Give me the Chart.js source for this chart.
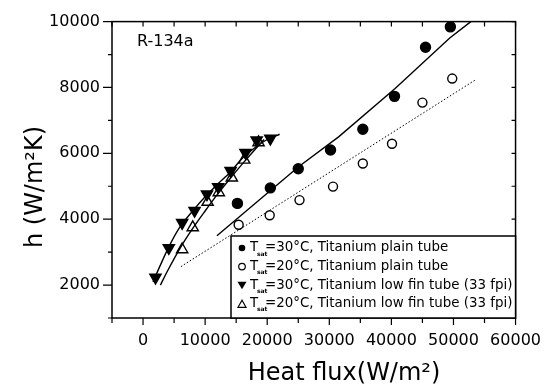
<!DOCTYPE html>
<html>
<head>
<meta charset="utf-8">
<script src="https://cdn.jsdelivr.net/npm/chart.js@4"></script>
<style>
html, body { margin: 0; padding: 0; background: #fff; }
</style>
</head>
<body>
<canvas id="c" width="554" height="385"></canvas>
<script>
// measured points (heat flux W/m2, h W/m2K)
const plain30X = [15200, 20500, 25000, 30200, 35400, 40500, 45500, 49500];
const plain30Y = [4480, 4950, 5530, 6100, 6730, 7730, 9220, 9840];
const plain20X = [15400, 20400, 25200, 30600, 35400, 40100, 45000, 49800];
const plain20Y = [3830, 4120, 4580, 4990, 5690, 6290, 7540, 8270];
const fin30X = [2000, 4150, 6300, 8300, 10300, 12100, 14100, 16500, 18300, 20500];
const fin30Y = [2230, 3130, 3890, 4260, 4760, 4980, 5470, 6020, 6400, 6450];
const fin20X = [6300, 8000, 10400, 12200, 14300, 16300, 18600];
const fin20Y = [3080, 3750, 4520, 4810, 5260, 5800, 6330];

// correlation curves
const fitPlain30X = [11900, 25100, 31500, 40600, 49400, 52800];
const fitPlain30Y = [3500, 5600, 6500, 7970, 9500, 10000];
const fitPlain20X = [6100, 53700];
const fitPlain20Y = [2560, 8250];
const fitFin30X = [1600, 4000, 6000, 8000, 10000, 12000, 14000, 16000, 18000, 20000, 22000];
const fitFin30Y = [2100, 3100, 3780, 4250, 4680, 5060, 5420, 5850, 6170, 6420, 6580];
const fitFin20X = [2800, 4000, 6000, 8000, 10000, 12000, 14000, 16000, 18000, 19500];
const fitFin20Y = [2000, 2450, 3130, 3720, 4250, 4760, 5230, 5680, 6110, 6420];

// legend
const legendTemps = ['30', '20', '30', '20'];
const legendTexts = ['Titanium plain tube', 'Titanium plain tube',
  'Titanium low fin tube (33 fpi)', 'Titanium low fin tube (33 fpi)'];
const legendMarks = ['dot', 'ring', 'down', 'up'];

const FONT = "'DejaVu Sans', sans-serif";

function pts(xs, ys) {
  return xs.map((x, i) => ({ x: x, y: ys[i] }));
}

function markerSet(xs, ys, style, filled, r, rot) {
  return {
    data: pts(xs, ys),
    showLine: false,
    pointStyle: style,
    pointRadius: r,
    pointRotation: rot || 0,
    pointBackgroundColor: filled ? '#000' : '#fff',
    pointBorderColor: '#000',
    pointBorderWidth: 1.4
  };
}

function curveSet(xs, ys, dash, tension) {
  return {
    data: pts(xs, ys),
    showLine: true,
    borderColor: '#000',
    borderWidth: dash ? 1 : 1.4,
    borderDash: dash || [],
    pointRadius: 0,
    tension: tension || 0
  };
}

function drawMark(ctx, kind, x, y) {
  ctx.save();
  ctx.strokeStyle = '#000';
  ctx.fillStyle = '#000';
  ctx.lineWidth = 1.2;
  ctx.beginPath();
  if (kind === 'dot' || kind === 'ring') {
    ctx.arc(x, y, 3.3, 0, Math.PI * 2);
    if (kind === 'dot') ctx.fill(); else ctx.stroke();
  } else if (kind === 'down') {
    ctx.moveTo(x - 4.5, y - 3.5);
    ctx.lineTo(x + 4.5, y - 3.5);
    ctx.lineTo(x, y + 4);
    ctx.closePath();
    ctx.fill();
  } else {
    ctx.moveTo(x - 4, y + 3.5);
    ctx.lineTo(x + 4, y + 3.5);
    ctx.lineTo(x, y - 3.5);
    ctx.closePath();
    ctx.stroke();
  }
  ctx.restore();
}

const frame = {
  id: 'frame',
  afterDraw(chart) {
    const ctx = chart.ctx;
    const a = chart.chartArea;
    const xs = chart.scales.x, ys = chart.scales.y;
    ctx.save();
    ctx.strokeStyle = '#000';
    ctx.lineWidth = 1.5;
    ctx.strokeRect(a.left, a.top, a.right - a.left, a.bottom - a.top);

    // tick marks
    ctx.lineWidth = 1.2;
    ctx.beginPath();
    xs.ticks.forEach(t => {
      const px = xs.getPixelForValue(t.value);
      const major = t.value % 10000 === 0;
      ctx.moveTo(px, a.bottom);
      ctx.lineTo(px, a.bottom + (major ? 7 : 5));
      ctx.moveTo(px, a.top);
      ctx.lineTo(px, a.top + 5);
    });
    ys.ticks.forEach(t => {
      const py = ys.getPixelForValue(t.value);
      const major = t.value % 2000 === 0;
      ctx.moveTo(a.left, py);
      ctx.lineTo(a.left - (major ? 9 : 4), py);
      ctx.moveTo(a.right, py);
      ctx.lineTo(a.right - 4, py);
    });
    ctx.stroke();

    // R-134a label
    ctx.fillStyle = '#000';
    ctx.font = '16px ' + FONT;
    ctx.textBaseline = 'alphabetic';
    ctx.textAlign = 'left';
    ctx.fillText('R-134a', 137, 46);

    // axis titles
    ctx.font = '24px ' + FONT;
    ctx.textAlign = 'center';
    ctx.fillText('Heat flux(W/m\u00B2)', 344, 380);
    ctx.save();
    ctx.translate(42, 187);
    ctx.rotate(-Math.PI / 2);
    ctx.fillText('h (W/m\u00B2K)', 0, 0);
    ctx.restore();

    // legend box
    const lx = 231, ly = 236;
    ctx.fillStyle = '#fff';
    ctx.fillRect(lx, ly, a.right - lx, a.bottom - ly);
    ctx.lineWidth = 1.5;
    ctx.strokeRect(lx, ly, a.right - lx, a.bottom - ly);
    ctx.textAlign = 'left';
    legendTexts.forEach((txt, i) => {
      const ry = 248 + i * 18.6;
      drawMark(ctx, legendMarks[i], 242, ry);
      ctx.fillStyle = '#000';
      ctx.font = '13.4px ' + FONT;
      ctx.textBaseline = 'middle';
      ctx.fillText('T', 250, ry);
      ctx.font = 'bold 6px ' + FONT;
      ctx.fillText('sat', 257, ry + 6);
      ctx.font = '13.4px ' + FONT;
      ctx.fillText('=' + legendTemps[i] + '\u00B0C, ' + txt, 265, ry);
    });
    ctx.restore();
  }
};

new Chart(document.getElementById('c'), {
  type: 'scatter',
  data: {
    datasets: [
      curveSet(fitPlain30X, fitPlain30Y),
      curveSet(fitPlain20X, fitPlain20Y, [1.5, 2]),
      curveSet(fitFin30X, fitFin30Y, null, 0.3),
      curveSet(fitFin20X, fitFin20Y, null, 0.3),
      markerSet(plain30X, plain30Y, 'circle', true, 5),
      markerSet(plain20X, plain20Y, 'circle', false, 4.5),
      markerSet(plain20X, plain20Y, 'circle', true, 0.8),
      markerSet(fin30X, fin30Y, 'triangle', true, 6.5, 180),
      markerSet(fin20X, fin20Y, 'triangle', false, 6.5)
    ]
  },
  options: {
    responsive: false,
    animation: false,
    devicePixelRatio: 1,
    layout: { padding: { left: 0, top: 13, right: 37, bottom: 0 } },
    plugins: { legend: { display: false }, tooltip: { enabled: false } },
    scales: {
      x: {
        type: 'linear',
        min: -5000,
        max: 60000,
        afterFit(s) { s.height = 67; },
        border: { display: false },
        grid: { display: false, drawTicks: false },
        ticks: {
          stepSize: 5000,
          autoSkip: false,
          maxRotation: 0,
          padding: 13,
          color: '#000',
          font: { family: FONT, size: 16 },
          callback: v => (v >= 0 && v % 10000 === 0) ? String(v) : ''
        }
      },
      y: {
        type: 'linear',
        min: 1000,
        max: 10000,
        afterFit(s) { s.width = 112; },
        border: { display: false },
        grid: { display: false, drawTicks: false },
        ticks: {
          stepSize: 1000,
          autoSkip: false,
          padding: 12,
          color: '#000',
          font: { family: FONT, size: 16 },
          callback: v => v % 2000 === 0 ? String(v) : ''
        }
      }
    }
  },
  plugins: [frame]
});
</script>
</body>
</html>
